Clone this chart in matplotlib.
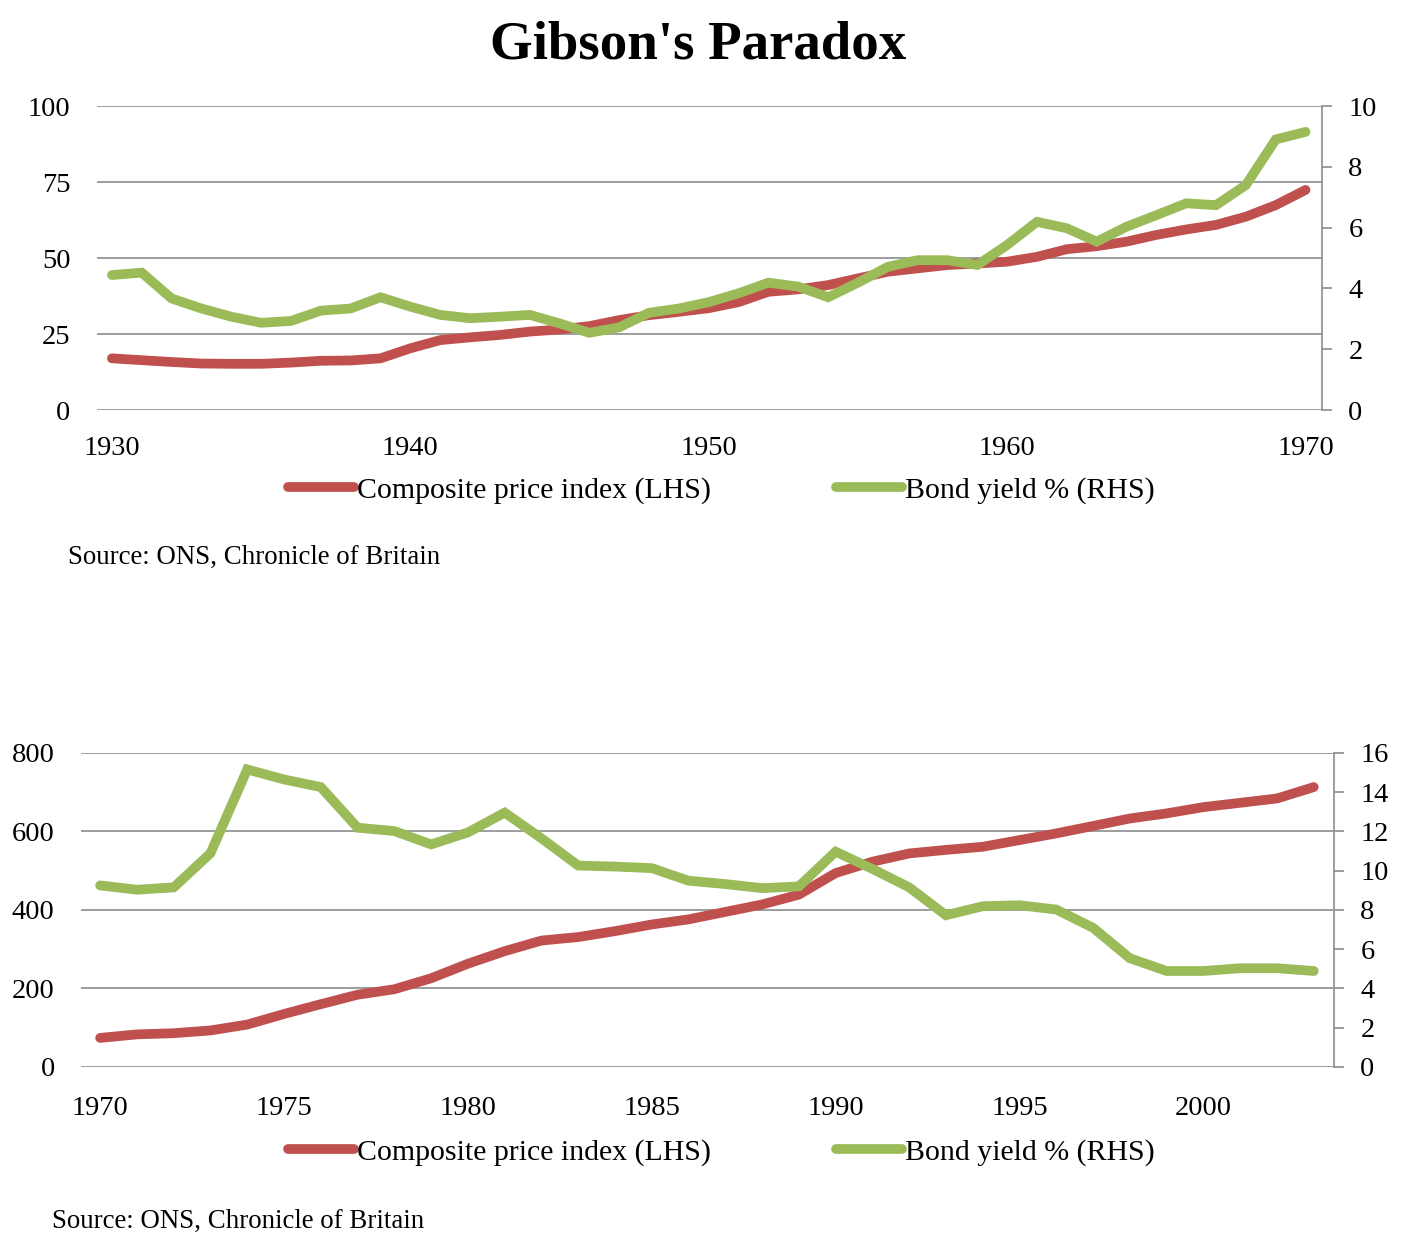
import matplotlib
matplotlib.use("Agg")
import matplotlib.pyplot as plt
from matplotlib.lines import Line2D

plt.rcParams["font.family"] = ["Liberation Serif", "DejaVu Serif"]

# ---- data ----
years_a = list(range(1930, 1971))
price_a = [17.0, 16.4, 15.8, 15.3, 15.2, 15.2, 15.6, 16.2, 16.3, 17.0,
           20.3, 23.0, 23.9, 24.7, 25.8, 26.5, 27.6, 29.6, 31.2, 32.3,
           33.5, 35.5, 38.9, 39.7, 41.1, 43.3, 45.5, 46.6, 47.7, 48.2,
           48.8, 50.4, 52.9, 53.9, 55.4, 57.6, 59.4, 60.9, 63.6, 67.4,
           72.4]
yield_a = [4.44, 4.52, 3.67, 3.34, 3.07, 2.87, 2.93, 3.27, 3.34, 3.71,
           3.40, 3.13, 3.02, 3.07, 3.13, 2.85, 2.54, 2.72, 3.20, 3.34,
           3.55, 3.84, 4.19, 4.06, 3.71, 4.19, 4.71, 4.93, 4.93, 4.77,
           5.43, 6.19, 5.98, 5.54, 6.03, 6.41, 6.80, 6.74, 7.40, 8.90,
           9.15]

years_b = list(range(1970, 2004))
price_b = [74, 83, 86, 93, 108, 135, 160, 184, 198, 226,
           263, 295, 322, 331, 346, 363, 376, 395, 414, 439,
           494, 523, 544, 553, 561, 578, 595, 614, 633, 646,
           662, 673, 684, 713]
yield_b = [9.25, 9.03, 9.15, 10.89, 15.16, 14.65, 14.26, 12.19, 12.02, 11.34,
           11.95, 12.96, 11.65, 10.26, 10.21, 10.13, 9.49, 9.32, 9.11, 9.20,
           10.97, 10.09, 9.15, 7.73, 8.19, 8.24, 8.02, 7.09, 5.54, 4.89,
           4.89, 5.03, 5.03, 4.89]

labels = ["Composite price index (LHS)", "Bond yield % (RHS)"]
source = "Source: ONS, Chronicle of Britain"

RED = "#C0504D"
GREEN = "#9BBB59"
GRID = "#8C8C8C"
LW = 7

fig = plt.figure(figsize=(14.14, 12.52), dpi=100)
fig.text(0.494, 0.964, "Gibson's Paradox", ha="center", va="center",
         fontsize=39.5, fontweight="bold")


def panel(rect, years, price, yld, ylim_l, yticks_l, ylim_r, yticks_r,
          xlim, xticks, xpad):
    ax = fig.add_axes(rect)
    ax2 = ax.twinx()
    ax.plot(years, price, color=RED, lw=LW, solid_capstyle="round")
    ax2.plot(years, yld, color=GREEN, lw=LW, solid_capstyle="round",
             solid_joinstyle="miter")
    ax.set_xlim(*xlim)
    ax.set_ylim(*ylim_l)
    ax2.set_ylim(*ylim_r)
    ax.set_yticks(yticks_l)
    ax2.set_yticks(yticks_r)
    ax.set_xticks(xticks)
    ax.grid(axis="y", color=GRID, lw=1.2)
    ax.set_axisbelow(True)
    for s in ax.spines.values():
        s.set_visible(False)
    for s in ["left", "top", "bottom"]:
        ax2.spines[s].set_visible(False)
    ax2.spines["right"].set_color(GRID)
    ax2.spines["right"].set_linewidth(1.2)
    ax.tick_params(axis="y", length=0, pad=19, labelsize=20.5)
    ax.tick_params(axis="x", length=0, pad=xpad, labelsize=20.5)
    ax2.tick_params(axis="y", length=7, width=1.2, color=GRID, pad=12,
                    labelsize=20.5, direction="out")
    return ax, ax2


panel([0.0686, 0.6725, 0.8663, 0.2428], years_a, price_a, yield_a,
      (0, 100), [0, 25, 50, 75, 100], (0, 10), [0, 2, 4, 6, 8, 10],
      (1929.5, 1970.55), [1930, 1940, 1950, 1960, 1970], 19)

panel([0.0573, 0.1478, 0.8861, 0.2508], years_b, price_b, yield_b,
      (0, 800), [0, 200, 400, 600, 800], (0, 16), list(range(0, 17, 2)),
      (1969.48, 2003.55), [1970, 1975, 1980, 1985, 1990, 1995, 2000], 21)

handles = [Line2D([], [], color=RED, lw=LW, solid_capstyle="round"),
           Line2D([], [], color=GREEN, lw=LW, solid_capstyle="round")]

for y in (0.6086, 0.0799):
    fig.legend(handles, labels, loc="center", bbox_to_anchor=(0.51, y),
               ncol=2, frameon=False, fontsize=21.5, handlelength=2.2,
               handletextpad=0.1, columnspacing=4.2)

fig.text(0.048, 0.555, source, fontsize=19.4, va="center")
fig.text(0.037, 0.0245, source, fontsize=19.4, va="center")

fig.savefig("out.png", dpi=100)
